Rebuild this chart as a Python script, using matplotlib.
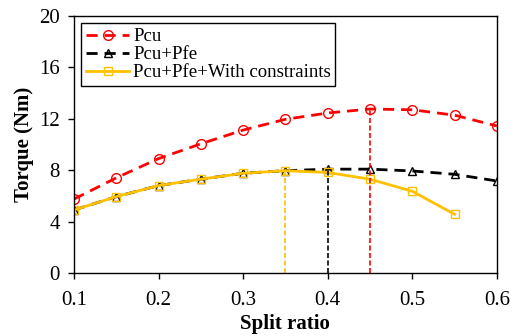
import matplotlib.pyplot as plt

split = [0.1, 0.15, 0.2, 0.25, 0.3, 0.35, 0.4, 0.45, 0.5, 0.55, 0.6]
pcu = [5.75, 7.4, 8.9, 10.05, 11.12, 11.96, 12.45, 12.76, 12.7, 12.28, 11.44]
pcu_pfe = [4.9, 5.94, 6.8, 7.3, 7.76, 7.96, 8.08, 8.08, 7.94, 7.68, 7.16]
split_con = [0.1, 0.15, 0.2, 0.25, 0.3, 0.35, 0.4, 0.45, 0.5, 0.55]
constrained = [4.9, 5.94, 6.8, 7.3, 7.76, 7.96, 7.82, 7.3, 6.36, 4.57]

# optimum split ratio of each case
opt_x = [0.45, 0.4, 0.35]
opt_y = [12.76, 8.08, 7.96]

RED = "#FF0000"
GOLD = "#FFC000"


def main():
    plt.rcParams["font.family"] = "Liberation Serif"
    plt.rcParams["font.size"] = 15

    fig = plt.figure(figsize=(5.17, 3.36), dpi=100)
    ax = fig.add_axes([0.143, 0.1875, 0.818, 0.765])

    ax.plot(split, pcu, color=RED, linestyle=(0, (4, 2.5)), linewidth=2,
            marker="o", markersize=7, markerfacecolor="none",
            markeredgecolor=RED, markeredgewidth=1, label="Pcu")
    ax.plot(split, pcu_pfe, color="black", linestyle=(0, (4, 2.5)), linewidth=2,
            marker="^", markersize=6, markerfacecolor="none",
            markeredgecolor="black", markeredgewidth=1, label="Pcu+Pfe")
    ax.plot(split_con, constrained, color=GOLD, linestyle="-", linewidth=2,
            marker="s", markersize=6, markerfacecolor="none",
            markeredgecolor=GOLD, markeredgewidth=1,
            label="Pcu+Pfe+With constraints")

    for x, y, c in zip(opt_x, opt_y, [RED, "black", GOLD]):
        ax.vlines(x, 0, y, colors=c, linestyles=(0, (3, 1.5)), linewidth=1.2)

    ax.set_xlim(0.1, 0.6)
    ax.set_ylim(0, 20)
    ax.set_xticks([0.1, 0.2, 0.3, 0.4, 0.5, 0.6])
    ax.set_yticks([0, 4, 8, 12, 16, 20])
    ax.tick_params(axis="both", direction="out", length=4, width=1)
    ax.tick_params(axis="x", pad=9)
    ax.tick_params(axis="y", pad=6)
    for s in ax.spines.values():
        s.set_linewidth(1)

    ax.set_xlabel("Split ratio", fontweight="bold", labelpad=3)
    ax.set_ylabel("Torque (Nm)", fontweight="bold", labelpad=4)

    leg = ax.legend(loc="upper left", fancybox=False, framealpha=1,
                    edgecolor="black", handlelength=2.3, handletextpad=0.2,
                    borderpad=0.25, labelspacing=0.05, borderaxespad=0.4,
                    fontsize=13.5)
    leg.get_frame().set_linewidth(1)

    fig.savefig("out.png", dpi=100)


if __name__ == "__main__":
    main()
